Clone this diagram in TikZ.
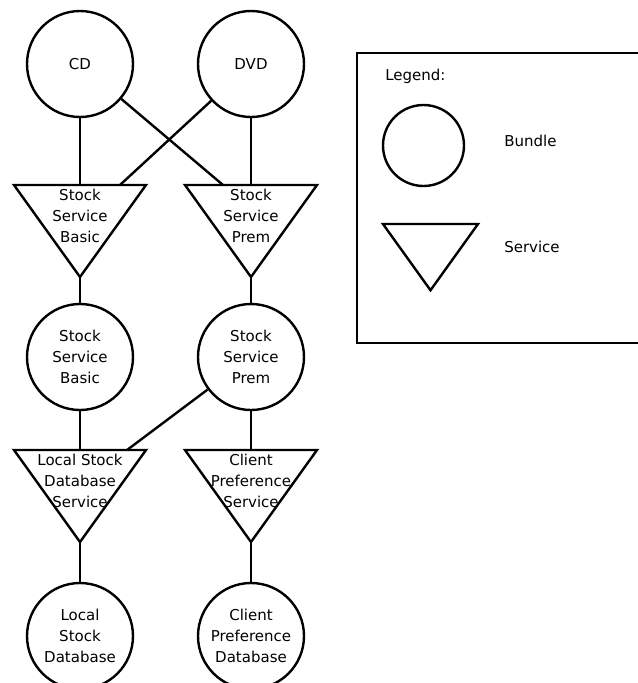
\documentclass[tikz,border=0pt]{standalone}
\usepackage{fontspec}
\setmainfont{DejaVu Sans}
\usetikzlibrary{calc}
\begin{document}
\begin{tikzpicture}[x=0.75pt,y=-0.75pt,
  stroke/.style={line width=1.8pt},
  labelfont/.style={font=\fontsize{11.25}{16}\selectfont},
  bundle/.style={draw, circle, stroke, minimum size=79.5pt, inner sep=0pt,
    align=center, labelfont},
  txt/.style={align=center, inner sep=0pt, labelfont},
  link/.style={stroke},
  service/.pic={
    \draw[stroke, line join=miter]
      (-66,0) coordinate (-tl) -- (66,0) coordinate (-tr)
      -- (0,92) coordinate (-apex) -- cycle;
    \coordinate (-top) at (0,0);
    \node[txt] (-label) at (0,31) {#1};
  }]
\clip (0,0) rectangle (638,683);

% bundles and services
\node[bundle] (bCD)  at (80,64)  {CD};
\node[bundle] (bDVD) at (251,64) {DVD};

\pic (sBasic) at (80,185)  {service={Stock\\Service\\Basic}};
\pic (sPrem)  at (251,185) {service={Stock\\Service\\Prem}};

\node[bundle] (bBasic) at (80,357)  {Stock\\Service\\Basic};
\node[bundle] (bPrem)  at (251,357) {Stock\\Service\\Prem};

\pic (sLocal)  at (80,450)  {service={Local Stock\\Database\\Service}};
\pic (sClient) at (251,450) {service={Client\\Preference\\Service}};

\node[bundle] (bLocal)  at (80,636)  {Local\\Stock\\Database};
\node[bundle] (bClient) at (251,636) {Client\\Preference\\Database};

% dependencies
\draw[link] (bCD) -- (sBasic-top);
\draw[link] (bDVD) -- (sPrem-top);
\draw[link] (bCD) -- ($(sPrem-tl)!0.288!(sPrem-tr)$);
\draw[link] (bDVD) -- ($(sBasic-tl)!0.803!(sBasic-tr)$);
\draw[link] (sBasic-apex) -- (bBasic);
\draw[link] (sPrem-apex) -- (bPrem);
\draw[link] (bBasic) -- (sLocal-top);
\draw[link] (bPrem) -- (sClient-top);
\draw[link] (bPrem) -- ($(sLocal-tl)!0.856!(sLocal-tr)$);
\draw[link] (sLocal-apex) -- (bLocal);
\draw[link] (sClient-apex) -- (bClient);

% legend
\draw[stroke] (357,53) rectangle (660,343);
\node[txt, anchor=base west] (legTitle) at (385,80) {Legend:};
\node[bundle, minimum size=60.75pt] (legBundle) at (423.5,145.5) {};
\node[txt, anchor=base west] (legBundleText) at (504,146) {Bundle};
\pic[scale=0.72] (legService) at (430.5,224) {service={}};
\node[txt, anchor=base west] (legServiceText) at (504,252) {Service};
\end{tikzpicture}
\end{document}
